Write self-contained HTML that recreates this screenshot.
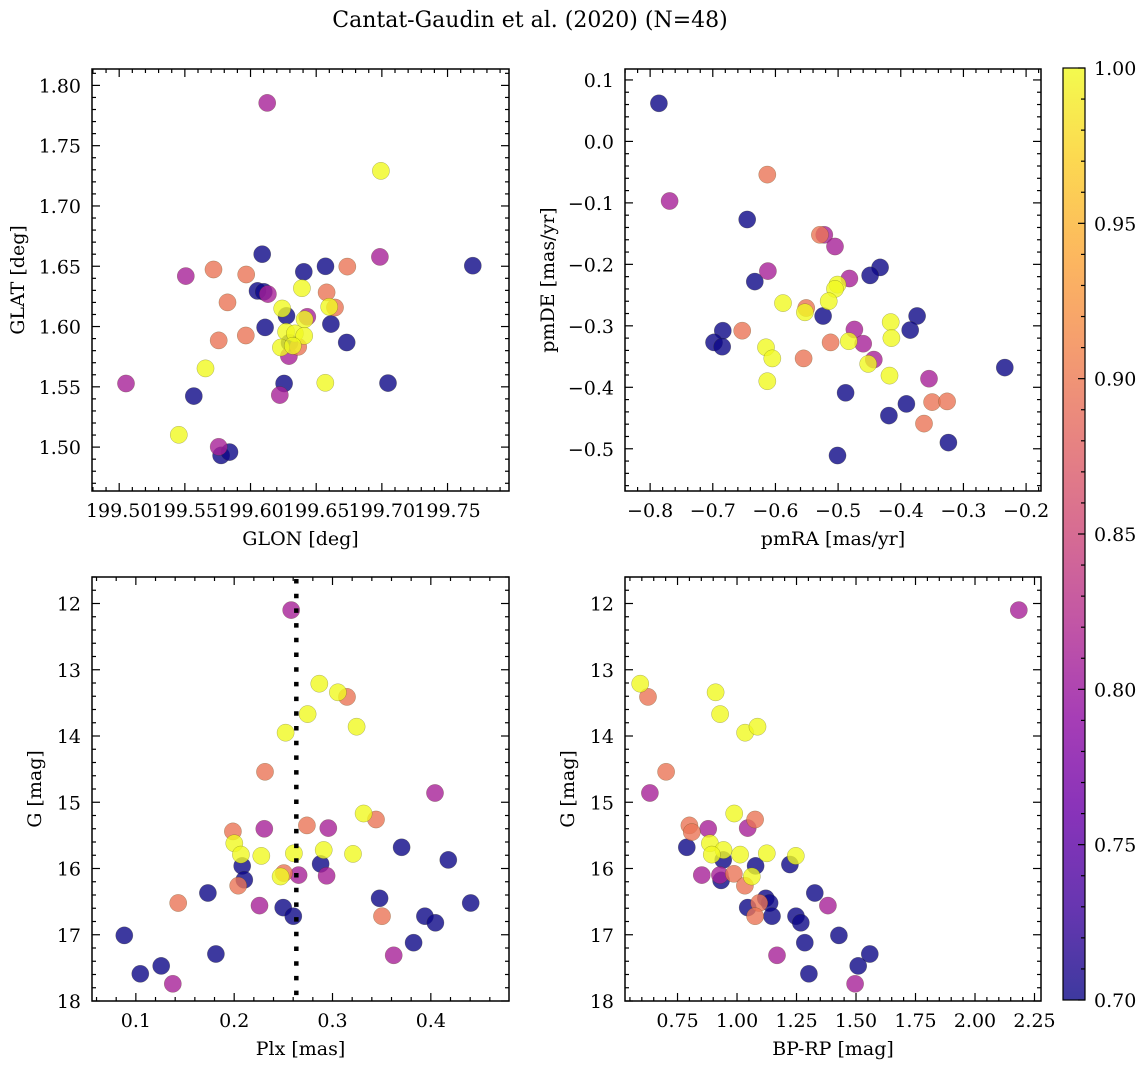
<!DOCTYPE html>
<html><head><meta charset="utf-8"><style>
body{margin:0;background:#fff;}
svg text{font-family:"DejaVu Serif","Liberation Serif",serif;fill:#000;}
</style></head><body>
<svg id="fig" width="1148" height="1067" viewBox="0 0 1148 1067" xmlns="http://www.w3.org/2000/svg">
<defs>
<linearGradient id="plasma" x1="0" y1="1" x2="0" y2="0">
<stop offset="0" stop-color="#0d0887"/><stop offset="0.1" stop-color="#41049d"/><stop offset="0.2" stop-color="#6a00a8"/><stop offset="0.3" stop-color="#8f0da4"/><stop offset="0.4" stop-color="#b12a90"/><stop offset="0.5" stop-color="#cc4778"/><stop offset="0.6" stop-color="#e16462"/><stop offset="0.7" stop-color="#f2844b"/><stop offset="0.8" stop-color="#fca636"/><stop offset="0.9" stop-color="#fcce25"/><stop offset="1" stop-color="#f0f921"/>
</linearGradient>
</defs>
<text x="530" y="27" font-size="22" text-anchor="middle">Cantat-Gaudin et al. (2020) (N=48)</text>
</svg>
<script>
// ---- data ----
const B=0.70,P=0.81,O=0.895,Y=1.0;
const glon=[199.6127,199.6993,199.6089,199.6985,199.7692,199.6571,199.6737,199.5718,199.5507,199.5967,199.6406,199.6391,199.6053,199.6101,199.6132,199.6579,199.5825,199.6241,199.6643,199.6599,199.6274,199.6432,199.6412,199.6111,199.6612,199.5758,199.5964,199.6271,199.6338,199.6409,199.6732,199.6363,199.6231,199.6322,199.6292,199.5657,199.5052,199.6256,199.6569,199.7047,199.5568,199.6223,199.5454,199.5758,199.5776,199.5840,199.6297];
const glat=[1.7855,1.7291,1.6600,1.6578,1.6505,1.6500,1.6497,1.6473,1.6418,1.6432,1.6454,1.6318,1.6296,1.6288,1.6269,1.6283,1.6200,1.6150,1.6158,1.6164,1.6089,1.6081,1.6059,1.5993,1.6020,1.5885,1.5926,1.5956,1.5943,1.5923,1.5868,1.5832,1.5826,1.5840,1.5755,1.5653,1.5528,1.5528,1.5533,1.5531,1.5423,1.5431,1.5102,1.5003,1.4931,1.4959,1.5866];
const probTL=[P,Y,B,P,B,B,O,O,P,O,B,Y,B,B,P,O,O,Y,O,Y,B,P,Y,B,B,O,O,Y,Y,Y,B,O,Y,Y,P,Y,P,B,Y,B,B,P,Y,P,B,B,B];
const pmra=[-0.786,-0.769,-0.613,-0.645,-0.529,-0.522,-0.505,-0.612,-0.633,-0.433,-0.449,-0.482,-0.501,-0.505,-0.588,-0.515,-0.551,-0.553,-0.524,-0.416,-0.374,-0.684,-0.653,-0.474,-0.385,-0.415,-0.698,-0.512,-0.483,-0.460,-0.685,-0.615,-0.605,-0.555,-0.443,-0.452,-0.418,-0.234,-0.355,-0.613,-0.488,-0.391,-0.350,-0.326,-0.419,-0.363,-0.324,-0.501];
const pmde=[0.062,-0.097,-0.054,-0.127,-0.152,-0.152,-0.171,-0.211,-0.228,-0.205,-0.218,-0.223,-0.233,-0.240,-0.263,-0.260,-0.271,-0.278,-0.284,-0.294,-0.284,-0.308,-0.308,-0.306,-0.307,-0.320,-0.327,-0.327,-0.325,-0.329,-0.334,-0.335,-0.353,-0.353,-0.355,-0.362,-0.381,-0.368,-0.386,-0.390,-0.409,-0.427,-0.424,-0.423,-0.446,-0.459,-0.490,-0.511];
const probTR=[B,P,O,B,O,P,P,P,B,B,B,P,Y,Y,Y,Y,O,Y,B,Y,B,B,O,P,B,Y,B,O,Y,P,B,Y,Y,O,P,Y,Y,B,P,Y,B,B,O,O,B,O,B,B];
const plx=[0.258,0.2866,0.3055,0.3147,0.2747,0.3245,0.2523,0.2313,0.4042,0.3316,0.3442,0.2740,0.1987,0.2306,0.2957,0.2001,0.3703,0.2910,0.2068,0.2276,0.2607,0.3208,0.4178,0.2082,0.2879,0.2506,0.2472,0.2655,0.2940,0.2103,0.2041,0.1733,0.3479,0.1431,0.4405,0.2258,0.2499,0.2601,0.3503,0.3940,0.4046,0.0882,0.3825,0.1814,0.3622,0.1258,0.1045,0.1376];
const gmagBL=[12.10,13.21,13.34,13.41,13.67,13.86,13.95,14.54,14.86,15.17,15.26,15.35,15.44,15.40,15.39,15.62,15.68,15.72,15.79,15.81,15.77,15.78,15.87,15.96,15.93,16.07,16.12,16.10,16.11,16.17,16.26,16.37,16.45,16.52,16.52,16.56,16.59,16.72,16.72,16.72,16.82,17.01,17.12,17.29,17.31,17.47,17.59,17.74];
const probBL=[P,Y,Y,O,Y,Y,Y,O,P,Y,O,O,O,P,P,Y,B,Y,Y,Y,Y,Y,B,B,B,O,Y,P,P,B,O,B,B,O,B,P,B,B,O,B,B,B,B,B,P,B,B,P];
const plxMean=[0.2632];
const bprp=[2.184,0.593,0.626,0.910,0.929,1.034,1.086,0.702,0.634,0.988,1.076,0.800,0.810,0.879,1.045,0.886,0.789,0.943,0.894,1.013,1.125,1.247,0.942,1.222,1.078,0.987,1.062,0.852,0.928,0.933,1.033,1.327,1.121,1.137,1.093,1.382,1.045,1.147,1.076,1.248,1.268,1.428,1.285,1.558,1.168,1.509,1.302,1.496];
const gmagBR=[12.10,13.21,13.41,13.34,13.67,13.95,13.86,14.54,14.86,15.17,15.26,15.35,15.45,15.40,15.39,15.62,15.68,15.72,15.79,15.79,15.77,15.81,15.87,15.94,15.96,16.08,16.12,16.10,16.10,16.18,16.26,16.37,16.45,16.52,16.52,16.56,16.59,16.72,16.72,16.72,16.82,17.01,17.12,17.29,17.31,17.47,17.59,17.74];
const probBR=[P,Y,O,Y,Y,Y,Y,O,P,Y,O,O,O,P,P,Y,B,Y,Y,Y,Y,Y,B,B,B,O,Y,P,P,B,O,B,B,B,O,P,B,B,O,B,B,B,B,B,P,B,B,P];
const cbTicks=[0.70,0.75,0.80,0.85,0.90,0.95,1.00];

// ---- helpers ----
const NS='http://www.w3.org/2000/svg';
const svg=document.getElementById('fig');
const FS=19;
function mk(tag,attrs,parent){const e=document.createElementNS(NS,tag);for(const k in attrs)e.setAttribute(k,attrs[k]);(parent||svg).appendChild(e);return e;}
const stops=['#0d0887','#41049d','#6a00a8','#8f0da4','#b12a90','#cc4778','#e16462','#f2844b','#fca636','#fcce25','#f0f921'];
function hx(c){return [parseInt(c.slice(1,3),16),parseInt(c.slice(3,5),16),parseInt(c.slice(5,7),16)];}
function plasma(v){let t=(v-0.7)/0.3;t=Math.max(0,Math.min(1,t));const f=t*10,i=Math.min(9,Math.floor(f)),r=f-i;const a=hx(stops[i]),b=hx(stops[i+1]);return 'rgb('+a.map((x,k)=>Math.round(x+(b[k]-x)*r)).join(',')+')';}
function fmt(v,d){const s=Math.abs(v).toFixed(d);return (v<-1e-9?'\u2212':'')+s;}

function panel(name,box,xr,yr,xt,yt,xminor,yminor,xd,yd,xlab,ylab,ylabX,xs,ys,ps,invY){
  const [L,T,R,Bm]=box;
  const g=mk('g',{},svg);
  
  
  const X=v=>L+(v-xr[0])/(xr[1]-xr[0])*(R-L);
  const Yf=v=>invY? T+(v-yr[0])/(yr[1]-yr[0])*(Bm-T) : Bm-(v-yr[0])/(yr[1]-yr[0])*(Bm-T);
  const idx=ps.map((p,i)=>i).sort((a,b)=>ps[a]-ps[b]);
  idx.forEach(i=>{
    const c=mk('circle',{cx:X(xs[i]).toFixed(1),cy:Yf(ys[i]).toFixed(1),r:8.6,fill:plasma(ps[i]),'fill-opacity':0.8,stroke:'rgba(60,60,0,0.4)','stroke-width':0.5},g);
    
    
  });
  const tg=mk('g',{stroke:'#000','stroke-width':1.2},g);
  
  
  const eps=1e-9;
  for(let v=Math.ceil(xr[0]/xminor-eps)*xminor;v<=xr[1]+eps;v+=xminor){
    const major=xt.some(t=>Math.abs(t-v)<xminor/10);const len=major?8:4;const x=X(v);
    mk('line',{x1:x,x2:x,y1:Bm,y2:Bm-len},tg);mk('line',{x1:x,x2:x,y1:T,y2:T+len},tg);
  }
  for(let v=Math.ceil(yr[0]/yminor-eps)*yminor;v<=yr[1]+eps;v+=yminor){
    const major=yt.some(t=>Math.abs(t-v)<yminor/10);const len=major?8:4;const y=Yf(v);
    mk('line',{y1:y,y2:y,x1:L,x2:L+len},tg);mk('line',{y1:y,y2:y,x1:R,x2:R-len},tg);
  }
  xt.forEach(v=>{const t=mk('text',{x:X(v),y:Bm+26,'font-size':FS,'text-anchor':'middle'},g);t.textContent=fmt(v,xd);
    });
  yt.forEach(v=>{const t=mk('text',{x:L-11,y:Yf(v)+7,'font-size':FS,'text-anchor':'end'},g);t.textContent=fmt(v,yd);
    });
  mk('rect',{x:L,y:T,width:R-L,height:Bm-T,fill:'none',stroke:'#000','stroke-width':1.5},g);
  const xl=mk('text',{x:(L+R)/2,y:Bm+54,'font-size':FS,'text-anchor':'middle'},g);xl.textContent=xlab;
  
  const yl=mk('text',{x:0,y:0,'font-size':FS,'text-anchor':'middle',transform:`translate(${ylabX},${(T+Bm)/2}) rotate(-90)`},g);yl.textContent=ylab;
  
  return {X,Yf,g};
}

panel('glon-glat',[92,69,509,491],[199.4793,199.7968],[1.4636,1.8136],
  [199.50,199.55,199.60,199.65,199.70,199.75],[1.50,1.55,1.60,1.65,1.70,1.75,1.80],0.01,0.01,2,2,'GLON [deg]','GLAT [deg]',24,glon,glat,probTL,false);
panel('pm',[625,69,1041,491],[-0.8401,-0.1762],[-0.5687,0.1178],
  [-0.8,-0.7,-0.6,-0.5,-0.4,-0.3,-0.2],[-0.5,-0.4,-0.3,-0.2,-0.1,0.0,0.1],0.02,0.02,1,1,'pmRA [mas/yr]','pmDE [mas/yr]',554,pmra,pmde,probTR,false);
const bl=panel('plx-g',[92,577,509,1001],[0.0554,0.4795],[11.6,18.0],
  [0.1,0.2,0.3,0.4],[12,13,14,15,16,17,18],0.02,0.2,1,0,'Plx [mas]','G [mag]',41,plx,gmagBL,probBL,true);
plxMean.forEach(v=>{const l=mk('line',{x1:bl.X(v),x2:bl.X(v),y1:579,y2:1000,stroke:'#000','stroke-width':4.5,'stroke-dasharray':'4.5 10.2'},bl.g);
  });
panel('color-mag',[625,577,1041,1001],[0.5293,2.2773],[11.6,18.0],
  [0.75,1.00,1.25,1.50,1.75,2.00,2.25],[12,13,14,15,16,17,18],0.05,0.2,2,0,'BP-RP [mag]','G [mag]',574,bprp,gmagBR,probBR,true);

// colorbar
const cb=mk('g',{},svg);


const cT=68,cB=1000,cL=1063,cR=1085;
const CY=v=>cB-(v-0.7)/0.3*(cB-cT);
mk('rect',{x:cL,y:cT,width:cR-cL,height:cB-cT,fill:'url(#plasma)','fill-opacity':0.8},cb);
for(let v=0.70;v<=1.0001;v+=0.01){const y=CY(v);const major=cbTicks.some(t=>Math.abs(t-v)<0.001);
  mk('line',{x1:cR,x2:cR-(major?7:4),y1:y,y2:y,stroke:'#000','stroke-width':1.2},cb);}
mk('rect',{x:cL,y:cT,width:cR-cL,height:cB-cT,fill:'none',stroke:'#000','stroke-width':1.2},cb);
cbTicks.forEach(v=>{const t=mk('text',{x:1094,y:CY(v)+7,'font-size':FS},cb);t.textContent=v.toFixed(2);
  });
</script>
</body></html>
